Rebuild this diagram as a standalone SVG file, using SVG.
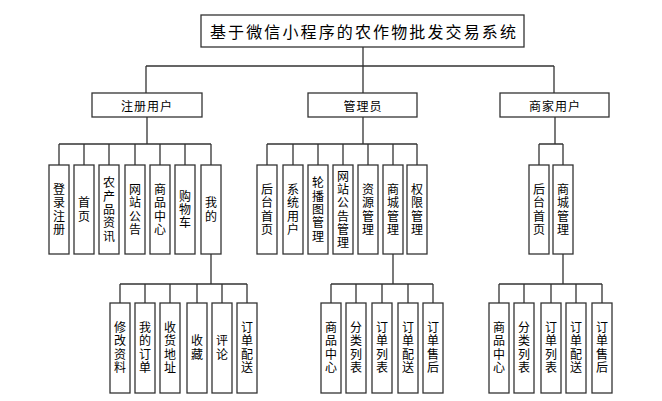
<svg xmlns="http://www.w3.org/2000/svg" width="662" height="401" viewBox="0 0 662 401">
<style>
.b{fill:#fff;stroke:#333;stroke-width:1.3}
.l{stroke:#333;stroke-width:1.3;fill:none}
text{font-family:"Noto Sans CJK SC","Noto Sans CJK JP",sans-serif;fill:#000;text-anchor:middle;dominant-baseline:central}
.t{font-size:16px}
.m{font-size:12px}
.v{font-size:12px;writing-mode:vertical-rl;letter-spacing:1.3px}
</style>
<rect width="662" height="401" fill="#fff"/>
<g id="connectors">
<path class="l" d="M363,47V66M146,66H554M146,66V93M363,66V93M554,66V93"/>
<path class="l" d="M147,117V144M59,144H211M59,144V165M84,144V165M109,144V165M135,144V165M160,144V165M185,144V165M211,144V165"/>
<path class="l" d="M363,117V144M267,144H417M267,144V165M293,144V165M318,144V165M343,144V165M368,144V165M393,144V165M417,144V165"/>
<path class="l" d="M555,117V144M539,144H563M539,144V165M563,144V165"/>
<path class="l" d="M211,254V284M120,284H247M120,284V303M145,284V303M170,284V303M197,284V303M222,284V303M247,284V303"/>
<path class="l" d="M393,254V284M331,284H433M331,284V303M356,284V303M382,284V303M408,284V303M433,284V303"/>
<path class="l" d="M563,254V284M499,284H602M499,284V303M524,284V303M551,284V303M576,284V303M602,284V303"/>
</g>
<g id="root"><rect class="b" x="201" y="15" width="323" height="32"/><text class="t" x="363" y="31" textLength="306" lengthAdjust="spacing">基于微信小程序的农作物批发交易系统</text></g>
<g id="n-user"><rect class="b" x="92" y="93" width="110" height="24"/><text class="m" x="147" y="105" letter-spacing="1">注册用户</text></g>
<g id="n-admin"><rect class="b" x="308" y="93" width="109" height="24"/><text class="m" x="363" y="105" letter-spacing="1">管理员</text></g>
<g id="n-merchant"><rect class="b" x="500" y="93" width="109" height="24"/><text class="m" x="555" y="105" letter-spacing="1">商家用户</text></g>

<g id="u1"><rect class="b" x="49" y="165" width="20" height="89"/><text class="v" x="59" y="210">登录注册</text></g>
<g id="u2"><rect class="b" x="74" y="165" width="20" height="89"/><text class="v" x="84" y="210">首页</text></g>
<g id="u3"><rect class="b" x="99" y="165" width="20" height="89"/><text class="v" x="109" y="210">农产品资讯</text></g>
<g id="u4"><rect class="b" x="125" y="165" width="20" height="89"/><text class="v" x="135" y="210">网站公告</text></g>
<g id="u5"><rect class="b" x="150" y="165" width="20" height="89"/><text class="v" x="160" y="210">商品中心</text></g>
<g id="u6"><rect class="b" x="175" y="165" width="20" height="89"/><text class="v" x="185" y="210">购物车</text></g>
<g id="u7"><rect class="b" x="201" y="165" width="20" height="89"/><text class="v" x="211" y="210">我的</text></g>

<g id="a1"><rect class="b" x="257" y="165" width="20" height="89"/><text class="v" x="267" y="210">后台首页</text></g>
<g id="a2"><rect class="b" x="283" y="165" width="20" height="89"/><text class="v" x="293" y="210">系统用户</text></g>
<g id="a3"><rect class="b" x="308" y="165" width="20" height="89"/><text class="v" x="318" y="210">轮播图管理</text></g>
<g id="a4"><rect class="b" x="333" y="165" width="20" height="89"/><text class="v" x="343" y="210">网站公告管理</text></g>
<g id="a5"><rect class="b" x="358" y="165" width="20" height="89"/><text class="v" x="368" y="210">资源管理</text></g>
<g id="a6"><rect class="b" x="383" y="165" width="20" height="89"/><text class="v" x="393" y="210">商城管理</text></g>
<g id="a7"><rect class="b" x="407" y="165" width="20" height="89"/><text class="v" x="417" y="210">权限管理</text></g>

<g id="m1"><rect class="b" x="529" y="165" width="20" height="89"/><text class="v" x="539" y="210">后台首页</text></g>
<g id="m2"><rect class="b" x="553" y="165" width="20" height="89"/><text class="v" x="563" y="210">商城管理</text></g>

<g id="w1"><rect class="b" x="110" y="303" width="20" height="90"/><text class="v" x="120" y="348">修改资料</text></g>
<g id="w2"><rect class="b" x="135" y="303" width="20" height="90"/><text class="v" x="145" y="348">我的订单</text></g>
<g id="w3"><rect class="b" x="160" y="303" width="20" height="90"/><text class="v" x="170" y="348">收货地址</text></g>
<g id="w4"><rect class="b" x="187" y="303" width="20" height="90"/><text class="v" x="197" y="348">收藏</text></g>
<g id="w5"><rect class="b" x="212" y="303" width="20" height="90"/><text class="v" x="222" y="348">评论</text></g>
<g id="w6"><rect class="b" x="237" y="303" width="20" height="90"/><text class="v" x="247" y="348">订单配送</text></g>

<g id="s1"><rect class="b" x="321" y="303" width="20" height="90"/><text class="v" x="331" y="348">商品中心</text></g>
<g id="s2"><rect class="b" x="346" y="303" width="20" height="90"/><text class="v" x="356" y="348">分类列表</text></g>
<g id="s3"><rect class="b" x="372" y="303" width="20" height="90"/><text class="v" x="382" y="348">订单列表</text></g>
<g id="s4"><rect class="b" x="398" y="303" width="20" height="90"/><text class="v" x="408" y="348">订单配送</text></g>
<g id="s5"><rect class="b" x="423" y="303" width="20" height="90"/><text class="v" x="433" y="348">订单售后</text></g>

<g id="p1"><rect class="b" x="489" y="303" width="20" height="90"/><text class="v" x="499" y="348">商品中心</text></g>
<g id="p2"><rect class="b" x="514" y="303" width="20" height="90"/><text class="v" x="524" y="348">分类列表</text></g>
<g id="p3"><rect class="b" x="541" y="303" width="20" height="90"/><text class="v" x="551" y="348">订单列表</text></g>
<g id="p4"><rect class="b" x="566" y="303" width="20" height="90"/><text class="v" x="576" y="348">订单配送</text></g>
<g id="p5"><rect class="b" x="592" y="303" width="20" height="90"/><text class="v" x="602" y="348">订单售后</text></g>
</svg>
